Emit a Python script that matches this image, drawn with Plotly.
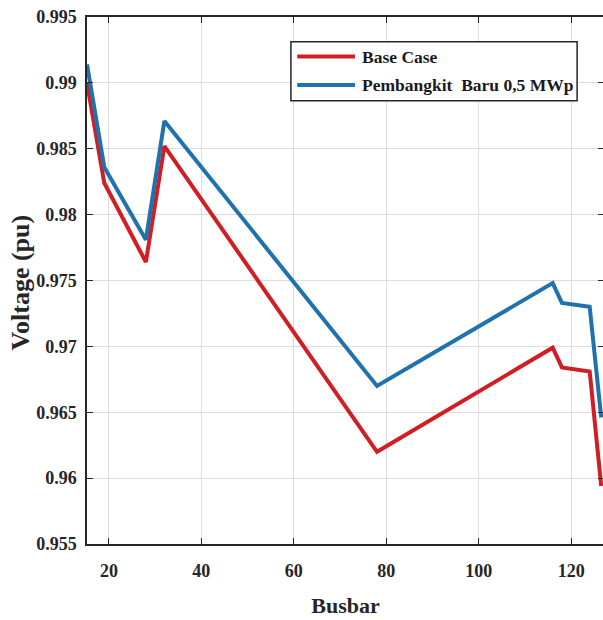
import plotly.graph_objects as go

# ---- data ----
busbar = [15.26, 19, 28, 32, 78, 116, 118, 124, 126.5]
base_case = [0.9900, 0.9824, 0.9764, 0.9852, 0.9620, 0.9699, 0.9684, 0.9681, 0.9594]
pembangkit = [0.9914, 0.9836, 0.9781, 0.9871, 0.9670, 0.9748, 0.9733, 0.9730, 0.9646]
series_names = ["Base Case", "Pembangkit  Baru 0,5 MWp"]
series_colors = ["#d01e24", "#1f72ad"]

x_tickvals = [20, 40, 60, 80, 100, 120]
y_tickvals = [0.955, 0.96, 0.965, 0.97, 0.975, 0.98, 0.985, 0.99, 0.995]
y_ticktext = ["0.955", "0.96", "0.965", "0.97", "0.975", "0.98", "0.985", "0.99", "0.995"]
x_title = "Busbar"
y_title = "Voltage (pu)"

FONT = "Liberation Serif"

fig = go.Figure()
for name, vals, col in zip(series_names, [base_case, pembangkit], series_colors):
    fig.add_trace(go.Scatter(x=busbar, y=vals, mode="lines", name=name,
                             line=dict(color=col, width=4), showlegend=False))

axis_common = dict(
    showline=True, linecolor="#262626", linewidth=1.5, mirror="ticks",
    ticks="inside", ticklen=6, tickcolor="#262626", tickwidth=1,
    showgrid=True, gridcolor="#dcdcdc", gridwidth=1, zeroline=False,
    ticklabeloverflow="allow",
    tickfont=dict(family=FONT, size=18, color="#262626", weight="bold"),
)

fig.update_xaxes(range=[15.26, 127.1], tickvals=x_tickvals,
                 ticklabelstandoff=10,
                 title=dict(text="<b>" + x_title + "</b>", standoff=17,
                            font=dict(family=FONT, size=22, color="#262626")),
                 **axis_common)
fig.update_yaxes(range=[0.955, 0.995], tickvals=y_tickvals, ticktext=y_ticktext,
                 ticklabelstandoff=5,
                 **axis_common)

# manual legend (MATLAB style); paper coords over plot area 87..606 x 17..544
shapes = [dict(type="rect", xref="paper", yref="paper", x0=0.3944, x1=0.9480,
               y0=0.8412, y1=0.9531, line=dict(color="#262626", width=1.5),
               fillcolor="white", layer="above")]
rows_y = [0.925, 0.871]
annotations = [dict(xref="paper", yref="paper", x=-0.129, y=0.497,
                    text="<b>" + y_title + "</b>", textangle=-90, showarrow=False,
                    xanchor="center", yanchor="middle",
                    font=dict(family=FONT, size=26, color="#262626"))]
for name, col, yy in zip(series_names, series_colors, rows_y):
    shapes.append(dict(type="line", xref="paper", yref="paper", x0=0.4066, x1=0.5183,
                       y0=yy, y1=yy, line=dict(color=col, width=4), layer="above"))
    annotations.append(dict(xref="paper", yref="paper", x=0.5279, y=yy, text="<b>" + name + "</b>",
                            showarrow=False, xanchor="left", yanchor="middle",
                            font=dict(family=FONT, size=17.5, color="#1a1a1a")))

fig.update_layout(
    width=606, height=620,
    margin=dict(l=87, r=0, t=17, b=76),
    plot_bgcolor="white", paper_bgcolor="white",
    shapes=shapes, annotations=annotations,
    showlegend=False,
)

fig.write_html(
    "out.html",
    config={"displayModeBar": False},
    post_script=("document.body.style.margin='0';"
                 "document.body.style.overflow='hidden';"
                 "document.documentElement.style.overflow='hidden';"),
)
